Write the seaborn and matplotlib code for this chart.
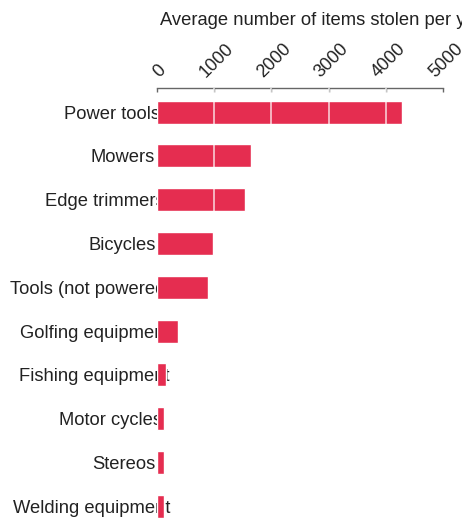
import numpy as np
import pandas as pd
import matplotlib
matplotlib.use("Agg")
import matplotlib.pyplot as plt
from matplotlib.transforms import offset_copy
import seaborn as sns

# items stolen, average per year
items = ["Power tools", "Mowers", "Edge trimmers", "Bicycles", "Tools (not powered)",
         "Golfing equipment", "Fishing equipment", "Motor cycles", "Stereos",
         "Welding equipment"]
stolen = [4280, 1640, 1540, 980, 890, 370, 160, 120, 120, 120]
xticks = [0, 1000, 2000, 3000, 4000, 5000]

df = pd.DataFrame({"item": items, "stolen": stolen})

sns.set_style("white")
plt.rcParams['font.family'] = ['Liberation Sans', 'DejaVu Sans']

fig = plt.figure(figsize=(4.62, 5.18), dpi=100)
ax = fig.add_axes([157 / 462, 0.0, 286 / 462, 430 / 518])

sns.barplot(data=df, x="stolen", y="item", orient="h", color="#e52d50",
            saturation=1, width=0.525, ax=ax, zorder=3)

# white grid lines drawn on top of the bars
for t in xticks[1:-1]:
    ax.axvline(t, color="white", alpha=0.75, lw=1.2, zorder=4)

ax.set_xlim(0, 5000)
ax.set_ylim(9.27, -0.55)

sns.despine(ax=ax, top=False, right=True, left=True, bottom=True)
ax.spines["top"].set_color("#666666")
ax.spines["top"].set_linewidth(1)

ax.xaxis.tick_top()
ax.set_xticks(xticks)
ax.set_xticklabels([str(t) for t in xticks], rotation=45,
                   ha="center", va="bottom", fontsize=13, color="#222222")
ax.tick_params(axis="x", direction="in", length=3, width=1, color="#666666", pad=5)
for lab in ax.get_xticklabels():
    lab.set_transform(offset_copy(lab.get_transform(), fig=fig, x=3, y=0, units="dots"))

# category labels sit under the bars, longer ones run into them
ax.set_yticks([])
ax.set_ylabel("")
labels = []
for i, name in enumerate(items):
    labels.append(ax.text(0, i, name, ha="right", va="baseline", fontsize=13.2,
                          color="#222222", zorder=2, clip_on=False))
fig.canvas.draw()
r = fig.canvas.get_renderer()
for txt in labels:
    w = txt.get_window_extent(r).width
    shift = -2 + 0.17 * max(w - 64, 0)
    txt.set_transform(offset_copy(ax.transData, fig=fig, x=shift, y=-6.5, units="dots"))

ax.xaxis.set_label_position("top")
ax.set_xlabel("Average number of items stolen per year", fontsize=13.2,
              color="#222222", ha="left", va="center")
ax.xaxis.set_label_coords(0.01, 1.158)

fig.savefig("out.png", dpi=100)
